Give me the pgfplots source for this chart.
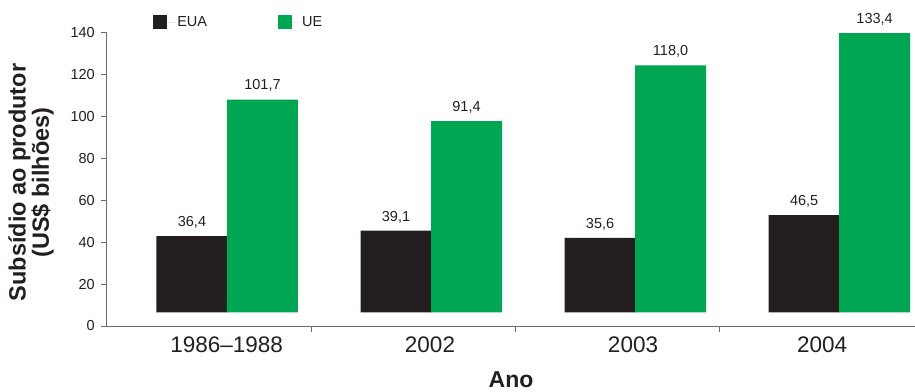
\documentclass[border=0pt]{standalone}
\usepackage{fontspec}
\setmainfont{Liberation Sans}
\usepackage{pgfplots}
\pgfplotsset{compat=1.18}
\usetikzlibrary{calc}

\definecolor{eua}{HTML}{231F20}
\definecolor{ue}{RGB}{0,166,81}
\definecolor{axisgray}{HTML}{6D6E71}
\definecolor{textc}{HTML}{231F20}

\pgfplotsset{
  sqleg/.style={legend image code/.code={\fill[##1] (0pt,-7pt) rectangle (14pt,7pt); \path (0pt,0pt) -- (22pt,0pt);}},
  common/.style={
    scale only axis, width=808pt, height=293pt,
    xmin=0, xmax=3.96, clip=false,
    /pgf/number format/assume math mode=true,
  },
}

\begin{document}
\begin{tikzpicture}
% axes, ticks, labels and legend
\begin{axis}[common, name=A, ymin=0, ymax=140,
    axis lines=left,
    axis line style={-, draw=axisgray, line width=1pt},
    tick align=outside, tick pos=left,
    major tick length=6pt,
    tick style={draw=axisgray, line width=1pt},
    ytick={0,20,...,140},
    yticklabel style={font=\fontsize{14.5}{17}\selectfont, text=textc, inner sep=0pt, xshift=-6pt},
    xtick={1,2,3}, xticklabels={},
    extra x ticks={0.586,1.583,2.578,3.505},
    extra x tick labels={1986--1988,2002,2003,2004},
    extra x tick style={major tick length=0pt,
      xticklabel style={font=\fontsize{22.5}{27}\selectfont, text=textc, inner sep=0pt, yshift=-11pt}},
    xlabel={Ano},
    xlabel style={at={(axis description cs:0.5,0)}, anchor=center, yshift=-54pt,
      font=\fontsize{23}{27}\selectfont\bfseries, text=textc},
    ylabel={Subsídio ao produtor\\(US\$ bilhões)},
    ylabel style={at={(axis description cs:0,0.5)}, anchor=center, yshift=76pt, xshift=-3pt,
      align=center, font=\fontsize{23.5}{21}\selectfont\bfseries, text=textc},
    legend columns=2,
    legend style={at={(axis description cs:0.057,1.036)}, anchor=west, draw=none, fill=none,
      inner sep=0pt, font=\fontsize{14.5}{17}\selectfont, text=textc,
      /tikz/every even column/.append style={column sep=69pt}},
  ]
\addlegendimage{fill=eua, draw=none, sqleg}
\addlegendentry{EUA}
\addlegendimage{fill=ue, draw=none, sqleg}
\addlegendentry{UE}
\end{axis}

% bars: same scale, zero raised 6.5 units above the drawn axis
\begin{axis}[common, hide axis, ymin=-6.5, ymax=133.5,
    ybar, bar shift=0pt,
    nodes near coords={\pgfmathprintnumber[fixed,fixed zerofill,precision=1,use comma,assume math mode=true]{\pgfplotspointmeta}},
    every node near coord/.append style={anchor=south, inner sep=0pt, yshift=7.5pt,
      font=\fontsize{14.5}{17}\selectfont, text=textc},
  ]
\addplot[fill=eua, draw=none, bar width=71pt]
  coordinates {(0.4165,36.4) (1.4165,39.1) (2.4165,35.6) (3.4165,46.5)};
\addplot[fill=ue, draw=none, bar width=71pt]
  coordinates {(0.762,101.7) (1.762,91.4) (2.762,118.0) (3.762,133.4)};
\end{axis}

\pgfresetboundingbox
\path[use as bounding box] ($(A.south west)+(-107pt,-65pt)$) rectangle ($(A.north east)+(0pt,33pt)$);
\end{tikzpicture}
\end{document}
